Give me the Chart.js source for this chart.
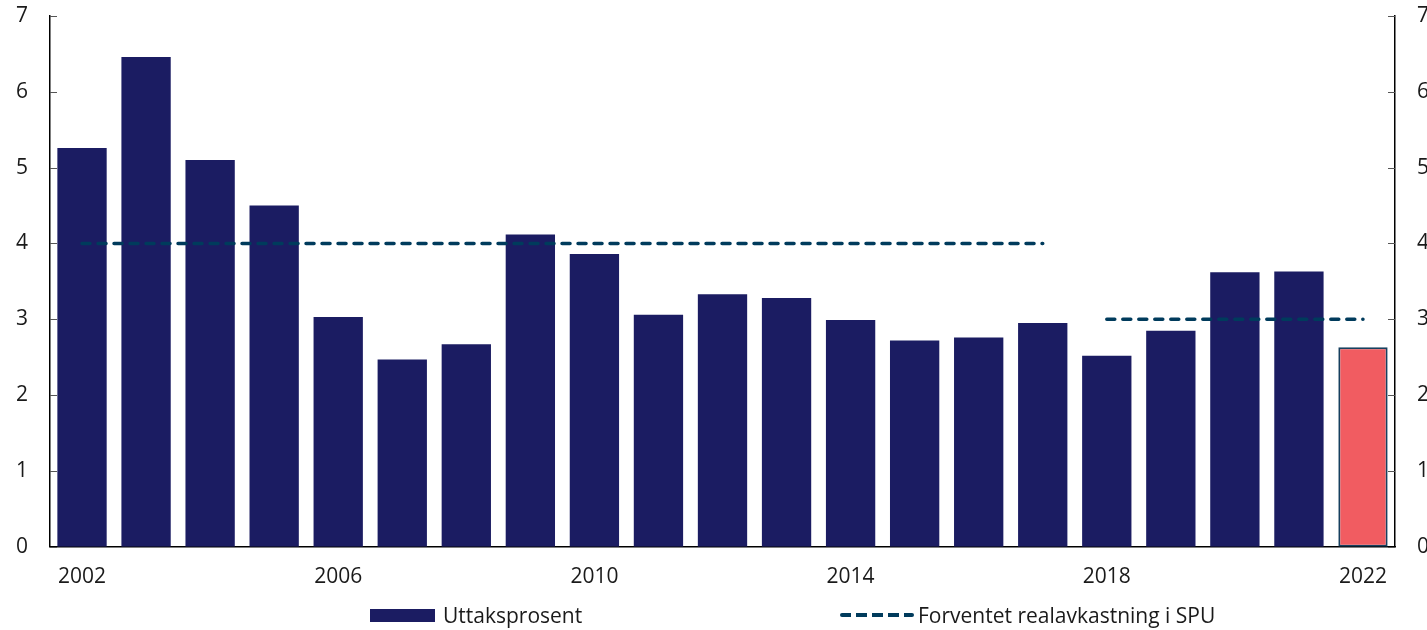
<!DOCTYPE html>
<html>
<head>
<meta charset="utf-8">
<script src="https://cdn.jsdelivr.net/npm/chart.js@4"></script>
<style>
  html, body { margin: 0; padding: 0; background: #fff; }
  #wrap { position: relative; width: 1427px; height: 630px; }
  #legend { position: absolute; top: 601px; left: 0; width: 1427px; height: 30px;
            font-family: "Open Sans", sans-serif; font-size: 21px; color: #1a1a1a; }
  .item { position: absolute; top: 0; display: flex; align-items: center; white-space: nowrap; }
  .box { width: 65px; height: 13px; background: #1b1c62; margin-right: 8px; }
  .dash { width: 74px; height: 4px; margin-right: 4px;
          background: repeating-linear-gradient(to right, #003b5c 0 11px, transparent 11px 16px); border-radius: 2px; }
</style>
</head>
<body>
<div id="wrap">
  <canvas id="chart" width="1427" height="630"></canvas>
  <div id="legend">
    <div class="item" style="left:370px"><div class="box"></div>Uttaksprosent</div>
    <div class="item" style="left:840px"><div class="dash"></div>Forventet realavkastning i SPU</div>
  </div>
</div>
<script>
// years on the x axis
var years = ['2002','2003','2004','2005','2006','2007','2008','2009','2010','2011','2012',
             '2013','2014','2015','2016','2017','2018','2019','2020','2021','2022'];
// only these years get a label
var shownYears = ['2002','2006','2010','2014','2018','2022'];
// withdrawal rate (uttaksprosent), last one is the estimate for 2022
var uttak = [5.26, 6.46, 5.10, 4.50, 3.03, 2.47, 2.67, 4.12, 3.86, 3.06, 3.33,
             3.28, 2.99, 2.72, 2.76, 2.95, 2.52, 2.85, 3.62, 3.63, 2.63];
// expected real return: 4 up to 2017, 3 from 2018
var forventet4 = [4, 4, 4, 4, 4, 4, 4, 4, 4, 4, 4, 4, 4, 4, 4, 4, null, null, null, null, null];
var forventet3 = [null, null, null, null, null, null, null, null, null, null, null,
                  null, null, null, null, null, 3, 3, 3, 3, 3];
// y ticks
var yTicks = [0, 1, 2, 3, 4, 5, 6, 7];

var navy = '#1b1c62';
var red = '#f15c61';
var lineColor = '#003b5c';

// small ticks pointing into the plot on both y axes
var innerTicks = {
    id: 'innerTicks',
    afterDraw: function (chart) {
        var ctx = chart.ctx;
        ctx.save();
        ctx.strokeStyle = '#555';
        ctx.lineWidth = 1;
        ['y', 'y2'].forEach(function (id) {
            var s = chart.scales[id];
            s.ticks.forEach(function (t) {
                var y = Math.round(s.getPixelForValue(t.value)) + 0.5;
                ctx.beginPath();
                if (id === 'y') { ctx.moveTo(s.right, y); ctx.lineTo(s.right + 7, y); }
                else { ctx.moveTo(s.left, y); ctx.lineTo(s.left - 7, y); }
                ctx.stroke();
            });
        });
        ctx.restore();
    }
};

var tickFont = { family: 'Open Sans', size: 21 };

function lineSet(label, data) {
    return {
        type: 'line',
        label: label,
        data: data,
        borderColor: lineColor,
        borderWidth: 3.5,
        borderDash: [8, 8],
        borderCapStyle: 'round',
        pointRadius: 0,
        fill: false,
        order: 1
    };
}

// fix the y axis widths and drop the half-label padding on top
function fitY(width) {
    return function (s) {
        s.width = width;
        s.paddingTop = 0;
        s.paddingBottom = 0;
    };
}

new Chart(document.getElementById('chart'), {
    type: 'bar',
    data: {
        labels: years,
        datasets: [
            {
                label: 'Uttaksprosent',
                data: uttak,
                backgroundColor: uttak.map(function (v, i) { return i === uttak.length - 1 ? red : navy; }),
                borderColor: uttak.map(function (v, i) { return i === uttak.length - 1 ? '#17405f' : navy; }),
                borderWidth: uttak.map(function (v, i) { return i === uttak.length - 1 ? 2 : 0; }),
                borderSkipped: false,
                categoryPercentage: 1,
                barPercentage: 0.77,
                order: 2
            },
            lineSet('Forventet realavkastning i SPU', forventet4),
            lineSet('Forventet realavkastning i SPU (fra 2018)', forventet3)
        ]
    },
    options: {
        responsive: false,
        animation: false,
        layout: { padding: { top: 16, bottom: 22, left: 0, right: 0 } },
        plugins: { legend: { display: false }, tooltip: { enabled: false } },
        scales: {
            x: {
                grid: { display: false, drawTicks: false },
                border: { display: true, color: '#000', width: 1.5 },
                ticks: {
                    autoSkip: false, maxRotation: 0, color: '#1a1a1a', font: tickFont, padding: 18,
                    callback: function (v, i) { return shownYears.indexOf(years[i]) >= 0 ? years[i] : ''; }
                },
                afterFit: function (s) { s.paddingLeft = 0; s.paddingRight = 0; }
            },
            y: {
                position: 'left',
                min: 0, max: 7,
                afterBuildTicks: function (s) { s.ticks = yTicks.map(function (v) { return { value: v }; }); },
                afterFit: fitY(50),
                grid: { display: false, drawTicks: false },
                border: { display: true, color: '#000', width: 1.5 },
                ticks: { color: '#1a1a1a', font: tickFont, padding: 22 }
            },
            y2: {
                position: 'right',
                min: 0, max: 7,
                afterBuildTicks: function (s) { s.ticks = yTicks.map(function (v) { return { value: v }; }); },
                afterFit: fitY(32),
                grid: { display: false, drawTicks: false },
                border: { display: true, color: '#000', width: 1.5 },
                ticks: { color: '#1a1a1a', font: tickFont, padding: 22 }
            }
        }
    },
    plugins: [innerTicks]
});
</script>
</body>
</html>
